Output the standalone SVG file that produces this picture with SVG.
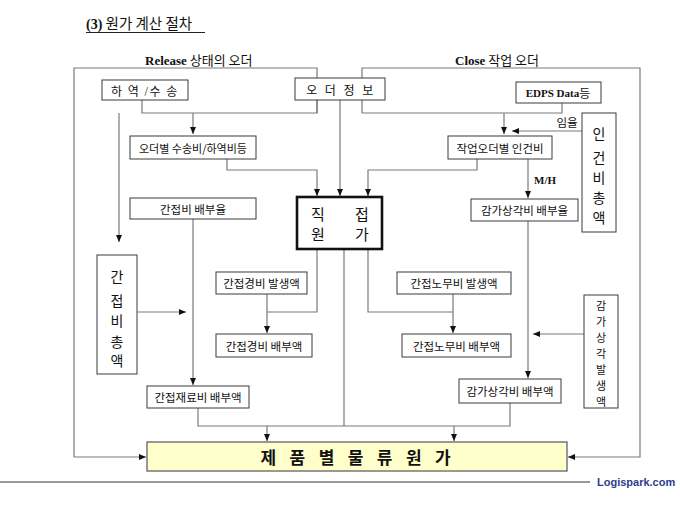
<svg xmlns="http://www.w3.org/2000/svg" width="680" height="510" viewBox="0 0 680 510">
<style>
.bg{fill:#ffffff}
.box{fill:#ffffff;stroke:#3a3a3a;stroke-width:1}
.thick{fill:#ffffff;stroke:#111111;stroke-width:2.6}
.final{fill:#ffffcc;stroke:#555555;stroke-width:1.2}
.ln{fill:none;stroke:#7a7a7a;stroke-width:1.2}
.ko{font-family:"Noto Sans CJK KR","Noto Sans",sans-serif;fill:#111111}
.t{text-anchor:middle;dominant-baseline:central}
.v{text-anchor:middle;dominant-baseline:central}
.s11{font-size:11px}
.s115{font-size:11.5px}
.s12{font-size:12px}
.s14{font-size:14px}
.s15{font-size:15px}
.serifb{font-family:"Liberation Serif","Times New Roman",serif;font-weight:bold}
</style>
<defs>
<marker id="ah" viewBox="0 0 7 6" refX="7" refY="3" markerWidth="7" markerHeight="6" markerUnits="userSpaceOnUse" orient="auto">
<path d="M0,0 L7,3 L0,6 z" fill="#111111"/>
</marker>
</defs>
<rect class="bg" x="0" y="0" width="680" height="510"/>

<g id="title">
<text x="86" y="29" class="ko" font-size="14.5"><tspan class="serifb" font-size="14">(3)</tspan> 원가 계산 절차</text>
<line x1="86" y1="32.5" x2="205" y2="32.5" stroke="#222222" stroke-width="1"/>
</g>
<g id="label-release">
<text x="145" y="65" class="ko" font-size="13"><tspan class="serifb">Release</tspan> 상태의 오더</text>
</g>
<g id="label-close">
<text x="455" y="65" class="ko" font-size="13"><tspan class="serifb">Close</tspan> 작업 오더</text>
</g>

<g id="connectors">
<path class="ln" d="M317,113 V68 H74 V457 H146" marker-end="url(#ah)"/>
<path class="ln" d="M142,100 V113 H317 V100"/>
<path class="ln" d="M193,113 V134" marker-end="url(#ah)"/>
<path class="ln" d="M562,103 V113 H362 V68 H640 V457 H568" marker-end="url(#ah)"/>
<path class="ln" d="M504,113 V134" marker-end="url(#ah)"/>
<path class="ln" d="M119,113 V242" marker-end="url(#ah)"/>
<path class="ln" d="M227,159 V170 H317 V196" marker-end="url(#ah)"/>
<path class="ln" d="M340,100 V196" marker-end="url(#ah)"/>
<path class="ln" d="M477,159 V170 H368 V196" marker-end="url(#ah)"/>
<path class="ln" d="M528,159 V198" marker-end="url(#ah)"/>
<path class="ln" d="M582,131 H512" marker-end="url(#ah)"/>
<path class="ln" d="M193,219 V385" marker-end="url(#ah)"/>
<path class="ln" d="M137,312 H186" marker-end="url(#ah)"/>
<path class="ln" d="M317,249 V312 H267"/>
<path class="ln" d="M267,294 V333" marker-end="url(#ah)"/>
<path class="ln" d="M368,249 V312 H453"/>
<path class="ln" d="M453,294 V333" marker-end="url(#ah)"/>
<path class="ln" d="M344,249 V426"/>
<path class="ln" d="M528,221 V378" marker-end="url(#ah)"/>
<path class="ln" d="M584,334 H533" marker-end="url(#ah)"/>
<path class="ln" d="M198,408 V426 H510 V403"/>
<path class="ln" d="M267,426 V441" marker-end="url(#ah)"/>
<path class="ln" d="M454,426 V441" marker-end="url(#ah)"/>
</g>

<g id="n-haeyeok">
<rect class="box" x="102" y="80" width="86" height="20"/>
<text x="145" y="90" class="ko t s12" letter-spacing="1.5">하 역 <tspan font-size="9">/</tspan>수 송</text>
</g>
<g id="n-order-info">
<rect class="box" x="295" y="78" width="90" height="22"/>
<text x="341" y="89" class="ko t s12" letter-spacing="2.5">오 더 정 보</text>
</g>
<g id="n-edps">
<rect class="box" x="516" y="82" width="85" height="21"/>
<text x="558" y="92.5" class="ko t s12"><tspan class="serifb" font-size="11">EDPS Data</tspan>등</text>
</g>
<g id="n-order-transport">
<rect class="box" x="130" y="136" width="126" height="23"/>
<text x="193" y="147.5" class="ko t s11">오더별 수송비/하역비등</text>
</g>
<g id="n-work-labor">
<rect class="box" x="448" y="136" width="104" height="23"/>
<text x="500" y="147.5" class="ko t s115">작업오더별 인건비</text>
</g>
<g id="n-labor-total">
<rect class="box" x="582" y="113" width="34" height="119"/>
<text x="599" y="133" class="ko v s14">인</text>
<text x="599" y="157" class="ko v s14">건</text>
<text x="599" y="177" class="ko v s14">비</text>
<text x="599" y="197" class="ko v s14">총</text>
<text x="599" y="217" class="ko v s14">액</text>
</g>
<g id="label-imyul">
<text x="567" y="122" class="ko t s115">임율</text>
</g>
<g id="label-mh">
<text x="534" y="184" class="serifb" font-size="11" fill="#111111">M/H</text>
</g>
<g id="n-indirect-rate">
<rect class="box" x="130" y="198" width="126" height="21"/>
<text x="193" y="208.5" class="ko t s115">간접비 배부율</text>
</g>
<g id="n-direct-cost">
<rect class="thick" x="297" y="197" width="85" height="52"/>
<text x="318" y="213" class="ko v s15">직</text>
<text x="362" y="213" class="ko v s15">접</text>
<text x="318" y="233" class="ko v s15">원</text>
<text x="362" y="233" class="ko v s15">가</text>
</g>
<g id="n-depr-rate">
<rect class="box" x="471" y="199" width="107" height="22"/>
<text x="524.5" y="210" class="ko t s115">감가상각비 배부율</text>
</g>
<g id="n-indirect-total">
<rect class="box" x="97" y="255" width="40" height="119"/>
<text x="117" y="276" class="ko v s14">간</text>
<text x="117" y="300" class="ko v s14">접</text>
<text x="117" y="320" class="ko v s14">비</text>
<text x="117" y="341" class="ko v s14">총</text>
<text x="117" y="360" class="ko v s14">액</text>
</g>
<g id="n-exp-occ">
<rect class="box" x="216" y="272" width="91" height="22"/>
<text x="261.5" y="283" class="ko t s115">간접경비 발생액</text>
</g>
<g id="n-labor-occ">
<rect class="box" x="397" y="272" width="114" height="22"/>
<text x="454" y="283" class="ko t s115">간접노무비 발생액</text>
</g>
<g id="n-depr-occ">
<rect class="box" x="584" y="295" width="34" height="113"/>
<text x="601" y="305" class="ko v s11">감</text>
<text x="601" y="321" class="ko v s11">가</text>
<text x="601" y="337" class="ko v s11">상</text>
<text x="601" y="353" class="ko v s11">각</text>
<text x="601" y="369" class="ko v s11">발</text>
<text x="601" y="385" class="ko v s11">생</text>
<text x="601" y="401" class="ko v s11">액</text>
</g>
<g id="n-exp-alloc">
<rect class="box" x="216" y="334" width="96" height="23"/>
<text x="264" y="345.5" class="ko t s115">간접경비 배부액</text>
</g>
<g id="n-labor-alloc">
<rect class="box" x="402" y="334" width="109" height="23"/>
<text x="456.5" y="345.5" class="ko t s115">간접노무비 배부액</text>
</g>
<g id="n-depr-alloc">
<rect class="box" x="459" y="379" width="102" height="24"/>
<text x="510" y="391" class="ko t s115">감가상각비 배부액</text>
</g>
<g id="n-material-alloc">
<rect class="box" x="147" y="386" width="102" height="22"/>
<text x="198" y="397" class="ko t s115">간접재료비 배부액</text>
</g>
<g id="n-final">
<rect class="final" x="147" y="442" width="420" height="29"/>
<text x="358" y="456" class="ko" font-size="17" font-weight="bold" text-anchor="middle" dominant-baseline="central" letter-spacing="4.8">제 품 별 물 류 원 가</text>
</g>

<g id="footer">
<line x1="0" y1="482" x2="590" y2="482" stroke="#9a9a9a" stroke-width="2"/>
<text x="597" y="485.5" font-family="Liberation Sans, Arial, sans-serif" font-size="11" font-weight="bold" fill="#2e3b8f">Logispark.com</text>
</g>
</svg>
